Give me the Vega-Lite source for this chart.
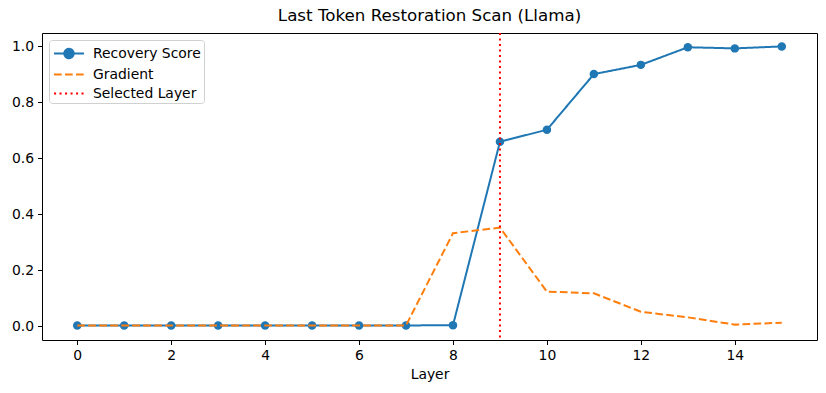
{
  "$schema": "https://vega.github.io/schema/vega-lite/v6.json",
  "width": 775,
  "height": 307,
  "autosize": {"type": "none"},
  "padding": {"left": 42, "top": 33, "right": 9, "bottom": 53},
  "background": "white",
  "title": {"text": "Last Token Restoration Scan (Llama)", "fontSize": 16.7, "fontWeight": "normal", "font": "DejaVu Sans", "color": "black", "offset": 7},
  "config": {
    "view": {"stroke": "black", "strokeWidth": 1},
    "font": "DejaVu Sans",
    "axis": {"grid": false, "domain": false, "tickColor": "black", "tickSize": 4.5, "labelFontSize": 13.9, "labelColor": "black", "titleColor": "black", "titleFontSize": 13.9, "titleFontWeight": "normal", "labelPadding": 4, "titlePadding": 5}
  },
  "data": {"values": [
    {"layer": 0, "value": 0.002, "series": "Recovery Score"},
    {"layer": 1, "value": 0.002, "series": "Recovery Score"},
    {"layer": 2, "value": 0.002, "series": "Recovery Score"},
    {"layer": 3, "value": 0.002, "series": "Recovery Score"},
    {"layer": 4, "value": 0.002, "series": "Recovery Score"},
    {"layer": 5, "value": 0.002, "series": "Recovery Score"},
    {"layer": 6, "value": 0.002, "series": "Recovery Score"},
    {"layer": 7, "value": 0.002, "series": "Recovery Score"},
    {"layer": 8, "value": 0.003, "series": "Recovery Score"},
    {"layer": 9, "value": 0.659, "series": "Recovery Score"},
    {"layer": 10, "value": 0.702, "series": "Recovery Score"},
    {"layer": 11, "value": 0.901, "series": "Recovery Score"},
    {"layer": 12, "value": 0.934, "series": "Recovery Score"},
    {"layer": 13, "value": 0.997, "series": "Recovery Score"},
    {"layer": 14, "value": 0.993, "series": "Recovery Score"},
    {"layer": 15, "value": 1.0, "series": "Recovery Score"},
    {"layer": 0, "value": 0.002, "series": "Gradient"},
    {"layer": 1, "value": 0.002, "series": "Gradient"},
    {"layer": 2, "value": 0.002, "series": "Gradient"},
    {"layer": 3, "value": 0.002, "series": "Gradient"},
    {"layer": 4, "value": 0.002, "series": "Gradient"},
    {"layer": 5, "value": 0.002, "series": "Gradient"},
    {"layer": 6, "value": 0.002, "series": "Gradient"},
    {"layer": 7, "value": 0.002, "series": "Gradient"},
    {"layer": 8, "value": 0.332, "series": "Gradient"},
    {"layer": 9, "value": 0.352, "series": "Gradient"},
    {"layer": 10, "value": 0.123, "series": "Gradient"},
    {"layer": 11, "value": 0.117, "series": "Gradient"},
    {"layer": 12, "value": 0.051, "series": "Gradient"},
    {"layer": 13, "value": 0.031, "series": "Gradient"},
    {"layer": 14, "value": 0.005, "series": "Gradient"},
    {"layer": 15, "value": 0.012, "series": "Gradient"}
  ]},
  "layer": [
    {
      "mark": {"type": "point", "filled": true, "opacity": 1, "size": 0},
      "encoding": {
        "x": {"field": "layer", "type": "quantitative", "title": "Layer", "scale": {"domain": [-0.75, 15.75], "nice": false, "zero": false}, "axis": {"values": [0, 2, 4, 6, 8, 10, 12, 14], "format": "d"}},
        "y": {"field": "value", "type": "quantitative", "title": null, "scale": {"domain": [-0.05, 1.048], "nice": false, "zero": false}, "axis": {"values": [0, 0.2, 0.4, 0.6, 0.8, 1.0], "format": ".1f"}},
        "color": {"field": "series", "type": "nominal", "title": null,
          "scale": {"domain": ["Recovery Score", "Gradient", "Selected Layer"], "range": ["#1f77b4", "#ff7f0e", "#ff0000"]},
          "legend": {"orient": "top-left", "offset": 6.5, "title": null, "labelFontSize": 13.9, "labelColor": "black", "strokeColor": "#d0d0d0", "fillColor": "white", "cornerRadius": 3, "padding": 2.5, "rowPadding": 1, "symbolSize": 400, "symbolStrokeWidth": 2, "symbolOffset": 6.5, "labelOffset": 13}},
        "shape": {"field": "series", "type": "nominal", "title": null,
          "scale": {"domain": ["Recovery Score", "Gradient", "Selected Layer"], "range": ["M-1.5,0L1.5,0M-0.47,0A0.47,0.47,0,1,1,0.47,0A0.47,0.47,0,1,1,-0.47,0Z", "M-1.5,0L1.5,0", "M-1.5,0L1.5,0"]}},
        "strokeDash": {"field": "series", "type": "nominal", "title": null,
          "scale": {"domain": ["Recovery Score", "Gradient", "Selected Layer"], "range": [[1, 0], [7.7, 3.3], [2.1, 3.4]]}}
      }
    },
    {
      "transform": [{"filter": "datum.series === 'Recovery Score'"}],
      "mark": {"type": "line", "strokeWidth": 2},
      "encoding": {
        "x": {"field": "layer", "type": "quantitative"},
        "y": {"field": "value", "type": "quantitative"},
        "color": {"field": "series", "type": "nominal"},
        "strokeDash": {"field": "series", "type": "nominal"}
      }
    },
    {
      "transform": [{"filter": "datum.series === 'Recovery Score'"}],
      "mark": {"type": "point", "filled": true, "opacity": 1, "size": 72, "shape": "circle"},
      "encoding": {
        "x": {"field": "layer", "type": "quantitative"},
        "y": {"field": "value", "type": "quantitative"},
        "color": {"field": "series", "type": "nominal"}
      }
    },
    {
      "transform": [{"filter": "datum.series === 'Gradient'"}],
      "mark": {"type": "line", "strokeWidth": 2},
      "encoding": {
        "x": {"field": "layer", "type": "quantitative"},
        "y": {"field": "value", "type": "quantitative"},
        "color": {"field": "series", "type": "nominal"},
        "strokeDash": {"field": "series", "type": "nominal"}
      }
    },
    {
      "data": {"values": [{"layer": 9, "series": "Selected Layer"}]},
      "mark": {"type": "rule", "strokeWidth": 2},
      "encoding": {
        "x": {"field": "layer", "type": "quantitative"},
        "color": {"field": "series", "type": "nominal"},
        "strokeDash": {"field": "series", "type": "nominal"}
      }
    }
  ]
}
